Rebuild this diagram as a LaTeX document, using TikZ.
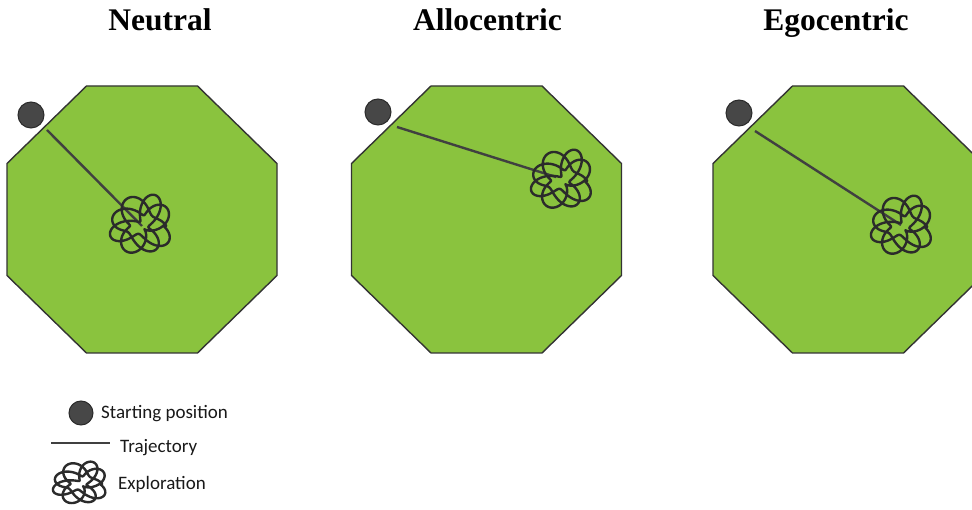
\documentclass[tikz,border=0pt]{standalone}
\usepackage{fontspec}
\setmainfont{Liberation Serif}
\newfontfamily\legendfont{Carlito}
\definecolor{arenagreen}{HTML}{8AC33E}
\definecolor{edgegrey}{HTML}{333333}
\definecolor{markgrey}{HTML}{474747}
\definecolor{inkgrey}{HTML}{2B2B2B}
\tikzset{
  arena/.style={fill=arenagreen, draw=edgegrey, line width=1.4pt, line join=miter},
  startdot/.style={circle, fill=markgrey, draw=inkgrey, line width=1pt, minimum size=26pt, inner sep=0pt},
  trajline/.style={draw=markgrey!90!black, line width=2.4pt},
  title/.style={anchor=base, font=\fontsize{31.5}{36}\selectfont\bfseries},
  legendtext/.style={anchor=base west, inner sep=0pt, font=\legendfont\fontsize{19}{22}\selectfont, text=black!90},
  % tangled exploration path: an irregular rose curve with a larger lobe up and to the right
  pics/scribble/.style={code={
    \draw[inkgrey, line width=2.4pt, line join=round, line cap=round]
      plot[samples=700, domain=0:18.85, variable=\t]
      ({(17+10*sin(deg(2.7*\t))+3*sin(deg(0.9*\t))+6*(cos(deg(\t)+45))^4)*cos(deg(\t))+2*cos(deg(1.7*\t))},
       {(16+10*sin(deg(2.7*\t))+3*cos(deg(1.1*\t))+6*(cos(deg(\t)+45))^4)*sin(deg(\t))});
  }},
  pics/octarena/.style={code={
    \path[arena] (-55.5,-133.5) -- (55.5,-133.5) -- (135,-56) -- (135,56)
      -- (55.5,133.5) -- (-55.5,133.5) -- (-135,56) -- (-135,-56) -- cycle;
  }}
}
\begin{document}
\begin{tikzpicture}[x=1pt, y=-1pt]
  \useasboundingbox (0,0) rectangle (972,510);
  \clip (0,0) rectangle (972,510);
  \fill[white] (0,0) rectangle (972,510);

  % column titles
  \node[title] (tn) at (160,31) {Neutral};
  \node[title] (ta) at (487.5,31) {Allocentric};
  \node[title] (te) at (836,31) {Egocentric};

  % arenas
  \pic at (142,219.5) {octarena};
  \pic at (486.5,219.5) {octarena};
  \pic at (848,219.5) {octarena};

  % starting positions
  \node[startdot] (s1) at (31,115) {};
  \node[startdot] (s2) at (378,112) {};
  \node[startdot] (s3) at (739,113) {};

  % trajectory ends and exploration centres
  \coordinate (b1) at (47,130);
  \coordinate (e1) at (142,226);
  \coordinate (b2) at (397,127);
  \coordinate (e2) at (556,177);
  \coordinate (c2) at (563,181);
  \coordinate (b3) at (755,131);
  \coordinate (e3) at (901,225);
  \coordinate (c3) at (903,227);

  \draw[trajline] (b1) -- (e1);
  \draw[trajline] (b2) -- (e2);
  \draw[trajline] (b3) -- (e3);

  \pic[scale=1.05] at (e1) {scribble};
  \pic[scale=1.05] at (c2) {scribble};
  \pic[scale=1.05] at (c3) {scribble};

  % legend
  \node[startdot, minimum size=24pt] (ls) at (81,413) {};
  \coordinate (la) at (51,443);
  \coordinate (lb) at (110,443);
  \draw[trajline, line width=2pt] (la) -- (lb);
  \coordinate (lx) at (81,484);
  \pic[xscale=0.92, yscale=0.75] at (lx) {scribble};
  \node[legendtext] (t1) at (101,418) {Starting position};
  \node[legendtext] (t2) at (120,452) {Trajectory};
  \node[legendtext] (t3) at (118,489) {Exploration};
\end{tikzpicture}
\end{document}
